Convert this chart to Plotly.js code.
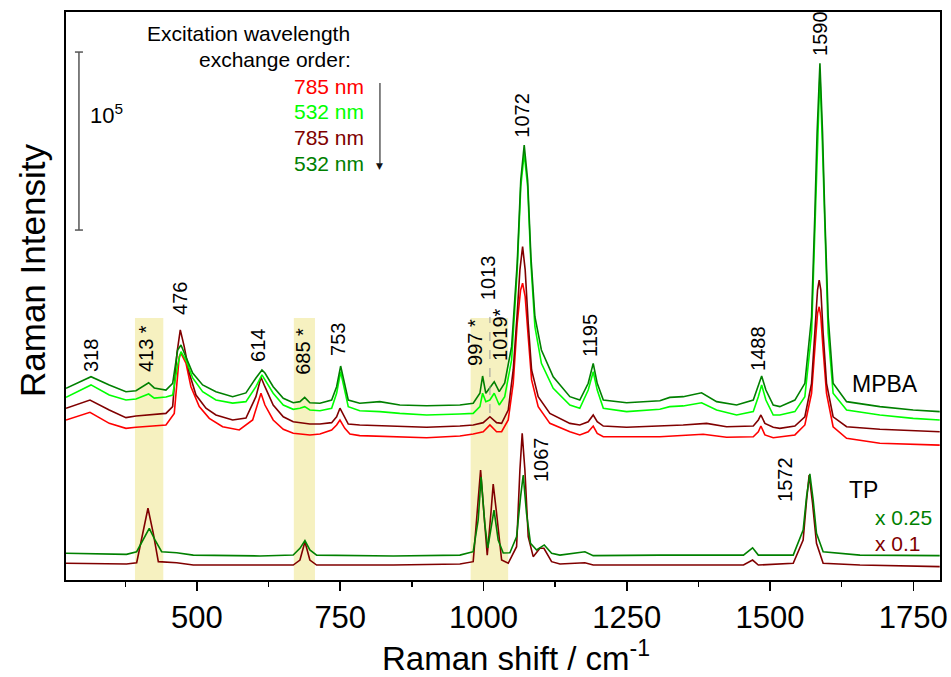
<!DOCTYPE html>
<html>
<head>
<meta charset="utf-8">
<script src="https://cdn.plot.ly/plotly-3.0.1.min.js"></script>
<style>html,body{margin:0;padding:0;background:#fff;}#chart{width:951px;height:677px;}</style>
</head>
<body>
<div id="chart"></div>
<script>
// ---------- DATA (Raman shift in cm^-1, intensity in 10^3 counts, offsets as plotted) ----------
// MPBA, 532 nm (second measurement, dark green)
const mpba532bX = [271.5,315.1,347,376.1,393.6,415.7,425.5,445.9,457.6,466.3,472.1,480.8,492.5,509.9,533.1,562.3,585.5,602.9,613.4,618.6,633,650.6,668,679.7,688,697,714.6,735,743.7,750.7,758,764,784,819,854,900.7,958.8,982,993.7,998.4,1004,1011,1018.7,1027.4,1037,1049,1058.8,1065,1071,1077,1082.7,1089.7,1101,1121.6,1150.7,1168,1182.7,1191.4,1198.4,1209,1249.7,1307.7,1325,1348.4,1380.5,1406.7,1441.6,1470.7,1479.5,1485.3,1492.7,1505.5,1517,1543.3,1560.7,1572.4,1578,1582,1587,1591.6,1595.6,1601.4,1610,1633.5,1691.6,1749.7,1796];
const mpba532bY = [107.7,114.2,109.6,105.8,106.3,110.8,107.9,106.7,110.5,129.2,132.0,125.5,116.3,109.6,105.8,103.0,105.1,113.5,118.0,116.3,108.6,102.1,99.6,100.2,102.6,99.6,99.3,101.1,108.6,120.2,110.5,101.1,99.3,100.2,98.3,97.9,98.3,99.3,104.9,114.6,104.9,107.7,111.4,105.8,110.7,131.1,177.9,224.7,244.4,224.7,181.6,147.9,129.2,114.2,103.0,101.1,110.5,121.7,110.5,101.1,99.6,100.7,102.6,103.0,105.2,100.2,98.3,101.1,108.6,114.6,106.7,98.3,97.4,101.1,110.5,147.9,204.1,251.0,290.3,251.0,204.1,147.9,110.5,100.2,97.4,95.5,94.6];
// MPBA, 532 nm (first measurement, bright green)
const mpba532aX = mpba532bX;
const mpba532aY = [102.6,109.6,103.9,101.1,101.7,104.5,102.2,102.8,103.9,120.8,128.3,123.6,113.5,105.8,101.1,99.4,100.2,108.6,115.2,112.4,104.9,98.3,95.9,96.5,97.4,95.5,95.1,96.5,104.9,117.0,106.7,97.4,95.1,94.6,93.6,92.7,93.3,93.6,97.4,104.9,100.2,101.1,104.9,98.3,103.0,123.6,174.2,221.0,239.7,221.0,177.9,142.3,121.7,107.7,98.3,96.5,106.7,117.0,106.7,96.5,94.6,95.9,97.4,97.8,99.6,95.5,92.7,94.6,103.0,109.6,101.1,92.7,92.7,94.6,103.0,138.6,194.8,241.6,284.7,241.6,194.8,138.6,104.9,95.5,92.7,90.8,89.9];
// MPBA, 785 nm (second measurement, dark red)
const mpba785bX = [271.5,313.3,347,376.1,393.6,416.8,445.9,457.6,465.1,470.9,477.8,486.6,498.3,515.7,533.1,562.3,585.5,602.9,611.7,618.6,633,650.6,668,697,714.6,735,743.7,749.5,758,764,784,854,900.7,958.8,982,999.5,1011.2,1022.8,1031.6,1043.1,1051.8,1058.8,1063.5,1068.2,1072.7,1078,1083.9,1095.4,1115.8,1150.7,1168,1182.7,1191.4,1198.4,1209,1249.7,1307.7,1348.4,1389.2,1424.1,1470.7,1479.5,1484,1491,1505.5,1517,1543.3,1560.7,1572.4,1578,1582.8,1585.7,1588.6,1592.6,1598.5,1610,1633.5,1691.6,1796];
const mpba785bY = [96.5,101.1,95.5,91.2,92.1,92.7,93.6,97.4,127.5,140.5,131.1,116.3,103.9,96.5,92.7,89.9,91.0,103.0,113.9,108.6,98.3,91.7,88.9,87.6,87.6,88.4,91.7,96.5,90.8,87.6,87.1,86.5,85.8,86.5,87.1,88.4,91.7,88.4,88.0,95.5,118.0,149.8,174.2,187.3,174.2,144.2,118.0,103.0,93.6,88.0,87.1,88.9,92.7,88.9,86.5,85.8,86.5,87.1,88.0,86.1,86.5,89.9,92.7,88.0,85.8,85.2,86.5,91.7,110.5,138.6,162.9,168.5,162.9,138.6,110.5,91.7,86.1,84.7,83.3];
// MPBA, 785 nm (first measurement, red)
const mpba785aX = [271.5,313.3,347,376.1,393.6,416.8,445.9,460.4,469.1,472.1,480.8,489.5,504,521.5,544.8,573.8,597.2,611.7,618.6,633,650.6,668,697,714.6,735,743.7,749.5,758,766.9,784,854,900.7,958.8,982,999.5,1011.2,1022.8,1031.6,1043.1,1051.8,1058.8,1064.7,1068.2,1072.7,1078,1083.9,1095.4,1115.8,1150.7,1168,1182.7,1191.4,1198.4,1209,1249.7,1307.7,1383.3,1424.1,1470.7,1479.5,1484,1491,1505.5,1517,1543.3,1560.7,1572.4,1578,1582.8,1585.7,1588.6,1592.6,1598.5,1610,1633.5,1691.6,1796];
const mpba785aY = [89.9,94.2,88.0,85.2,85.8,86.5,87.1,93.6,125.5,127.5,121.9,108.6,97.4,90.8,86.1,84.3,89.9,104.9,98.3,89.9,84.7,82.4,81.5,82.0,84.3,87.1,89.9,85.2,82.0,81.1,80.5,79.9,80.9,82.0,83.3,87.1,83.3,83.3,89.9,110.5,144.2,162.9,166.7,159.2,136.7,112.4,97.4,88.0,83.3,81.5,83.3,86.5,82.4,80.5,80.5,80.5,81.9,80.2,80.5,83.3,86.5,81.5,79.9,80.5,81.5,87.1,104.9,129.2,149.8,153.5,147.9,129.2,104.9,86.1,79.6,76.8,75.8];
// TP, 532 nm (x 0.25, dark green)
const tp532X = [271.5,377,394.8,406,416.8,426.7,438.4,464.6,493.6,610,668,679.7,688.4,697,708.8,842.5,958.8,982,990.7,995.8,1002.4,1007.5,1011,1018.3,1025.6,1034.4,1046,1057.7,1064.7,1069.3,1075,1082,1092.6,1106,1118.8,1133.3,1176.9,1191.4,1307.7,1453.6,1469.5,1479.5,1540.4,1557.7,1563.7,1569.4,1575.2,1581,1592.6,1656.8,1796];
const tp532Y = [15.0,14.4,15.9,22.5,29.0,22.5,15.9,15.3,14.0,13.5,14.0,17.8,22.1,16.9,14.0,13.5,14.0,15.9,33.7,57.9,30.9,18.0,24.3,39.3,22.5,15.2,15.3,24.3,46.8,59.0,37.5,20.6,16.9,19.7,15.0,14.0,15.9,13.7,14.0,14.0,18.1,14.0,14.0,28.1,46.8,59.6,44.9,26.2,15.9,14.0,13.7];
// TP, 785 nm (x 0.1, dark red)
const tp785X = [271.5,377,394.8,405.3,414.5,423.8,432.6,464.6,493.6,610,668,679.7,688.4,697,708.8,842.5,958.8,982,989.6,994.9,1000.7,1006.5,1012.9,1016.9,1022.8,1031.6,1043.1,1057.7,1063.5,1067.5,1072.2,1078,1086.7,1098.4,1105.4,1118.8,1133.3,1176.9,1191.4,1307.7,1453.6,1469.5,1479.5,1540.4,1557.7,1563.7,1568.2,1574.1,1581,1592.6,1656.8,1796];
const tp785Y = [9.4,9.0,9.7,26.2,40.3,26.2,10.3,9.7,8.4,8.4,8.4,11.2,21.5,11.2,8.4,8.4,9.0,10.3,43.1,61.8,37.5,14.0,37.5,53.9,37.5,11.2,9.4,18.7,61.8,82.4,61.8,24.3,13.1,17.8,17.8,10.3,9.0,9.7,8.4,8.4,8.4,11.2,8.4,9.4,22.5,44.9,59.0,43.1,20.6,9.4,8.4,7.5];

// tick labels
const tickValues = [500, 750, 1000, 1250, 1500, 1750];
const tickLabels = ['500', '750', '1000', '1250', '1500', '1750'];

// peak labels (text)
const peakLabels = ['318','413 *','476','614','685 *','753','997 *','1013','1019*','1072','1195','1488','1590','1067','1572'];
// highlighted (starred) bands, cm^-1
const bandStarts = [391.8, 669.0, 977.5];
const bandEnds   = [441.3, 705.9, 1043.0];

// ---------- STYLE ----------
const FONT = 'Liberation Sans, Arial, sans-serif';
const RED = '#ff0000', GREEN = '#00ff00', DRED = '#800000', DGREEN = '#008000';

function line(x, y, color, name) {
  return {x: x, y: y, type: 'scatter', mode: 'lines', name: name,
          line: {color: color, width: 1.6}, hoverinfo: 'x+y'};
}

const traces = [
  line(mpba785aX, mpba785aY, RED, 'MPBA 785 nm (1)'),
  line(mpba785bX, mpba785bY, DRED, 'MPBA 785 nm (2)'),
  line(mpba532aX, mpba532aY, GREEN, 'MPBA 532 nm (1)'),
  line(mpba532bX, mpba532bY, DGREEN, 'MPBA 532 nm (2)'),
  line(tp785X, tp785Y, DRED, 'TP 785 nm x0.1'),
  line(tp532X, tp532Y, DGREEN, 'TP 532 nm x0.25')
];

// label positions (layout, not data)
const peakPos = [
  [315.1,126.4],[412.2,130.1],[470.3,158.4],[606.4,132.0],[684.9,128.7],[746,135.4],
  [985,133.7],[1008.2,169.7],[1028.6,137.6],[1066.5,261.2],[1185.6,137.6],[1478.7,130.3],
  [1586.9,307.3],[1101.4,67.7],[1525.8,56.7]
];

const annotations = [];
peakLabels.forEach((t, i) => {
  annotations.push({x: peakPos[i][0], y: peakPos[i][1], xref: 'x', yref: 'y', text: t,
    textangle: -90, showarrow: false, xanchor: 'center', yanchor: 'middle',
    font: {family: FONT, size: 20, color: '#000'}});
});

function txt(x, y, t, opts) {
  return Object.assign({x: x, y: y, xref: 'x', yref: 'y', text: t, showarrow: false,
    xanchor: 'center', yanchor: 'middle', font: {family: FONT, size: 21, color: '#000'}}, opts || {});
}

annotations.push(txt(1701.2, 110.1, 'MPBA', {font: {family: FONT, size: 23, color: '#000'}}));
annotations.push(txt(1663.6, 50.6, 'TP', {font: {family: FONT, size: 23, color: '#000'}}));
annotations.push({x: 0.9233, y: 0.1109, xref: 'paper', yref: 'paper', text: 'x 0.25', showarrow: false,
  xanchor: 'left', yanchor: 'middle', font: {family: FONT, size: 21, color: DGREEN}});
annotations.push({x: 0.9233, y: 0.0651, xref: 'paper', yref: 'paper', text: 'x 0.1', showarrow: false,
  xanchor: 'left', yanchor: 'middle', font: {family: FONT, size: 21, color: DRED}});

// legend-like text block
const block = [
  ['Excitation wavelength', 0.3272, 0.9621, '#000'],
  ['exchange order:', 0.3284, 0.9155, '#000'],
  ['785 nm', 0.3432, 0.8680, RED],
  ['532 nm', 0.3432, 0.8248, GREEN],
  ['785 nm', 0.3432, 0.7782, DRED],
  ['532 nm', 0.3432, 0.7333, DGREEN]
];
block.forEach(b => annotations.push({x: b[1], y: b[2], xref: 'paper', yref: 'paper', text: b[0],
  showarrow: false, xanchor: 'right', yanchor: 'middle', font: {family: FONT, size: 21, color: b[3]}}));

// arrow head of exchange order (glyph)
annotations.push({x: 819.3, y: 232.5, xref: 'x', yref: 'y', text: '\u25BC', showarrow: false,
  xanchor: 'center', yanchor: 'middle', font: {family: 'DejaVu Sans, sans-serif', size: 9, color: '#111'}});

// scale bar label
annotations.push({x: 0.0252, y: 0.8213, xref: 'paper', yref: 'paper', text: '10<sup>5</sup>', showarrow: false,
  xanchor: 'left', yanchor: 'middle', font: {family: FONT, size: 22, color: '#000'}});

// axis titles
annotations.push({x: -0.0389, y: 0.544, xref: 'paper', yref: 'paper', text: 'Raman Intensity', showarrow: false,
  textangle: -90, xanchor: 'center', yanchor: 'middle', font: {family: FONT, size: 35, color: '#000'}});
annotations.push({x: 0.5149, y: -0.134, xref: 'paper', yref: 'paper', text: 'Raman shift / cm<sup>-1</sup>', showarrow: false,
  xanchor: 'center', yanchor: 'middle', borderpad: 0, font: {family: FONT, size: 33, color: '#000'}});

const shapes = [];
bandStarts.forEach((b, i) => shapes.push({type: 'rect', xref: 'x', yref: 'y', x0: b, x1: bandEnds[i],
  y0: 0, y1: 147.2, fillcolor: 'rgb(246,241,192)', line: {width: 0}, layer: 'below'}));
// dashed marker at 1013
shapes.push({type: 'line', xref: 'x', yref: 'y', x0: 1011.2, x1: 1011.2, y0: 93.8, y1: 147.8,
  line: {color: '#999', width: 1, dash: 'dash'}});
// arrow shaft of exchange order
shapes.push({type: 'line', xref: 'x', yref: 'y', x0: 819.3, x1: 819.3, y0: 234, y1: 279.2,
  line: {color: '#444', width: 1.3}});
// scale bar (10^5 counts = 100 units)
shapes.push({type: 'line', xref: 'x', yref: 'y', x0: 294.1, x1: 294.1, y0: 196.6, y1: 296.6, line: {color: '#555', width: 1.5}});
shapes.push({type: 'line', xref: 'x', yref: 'y', x0: 287.1, x1: 301.1, y0: 196.6, y1: 196.6, line: {color: '#555', width: 1.5}});
shapes.push({type: 'line', xref: 'x', yref: 'y', x0: 287.1, x1: 301.1, y0: 296.6, y1: 296.6, line: {color: '#555', width: 1.5}});

const layout = {
  width: 951, height: 677,
  margin: {l: 66, r: 11, t: 12, b: 97},
  paper_bgcolor: '#fff', plot_bgcolor: '#fff',
  showlegend: false,
  font: {family: FONT, color: '#000'},
  xaxis: {
    range: [271.5, 1796.5], tickmode: 'array', tickvals: tickValues, ticktext: tickLabels,
    ticks: 'outside', ticklen: 9, tickwidth: 1.5, tickcolor: '#000',
    minor: {ticks: 'outside', ticklen: 5, tickwidth: 1.5, tickcolor: '#000', tick0: 0, dtick: 125},
    showline: true, linecolor: '#000', linewidth: 1.8, mirror: true,
    showgrid: false, zeroline: false,
    tickfont: {family: FONT, size: 31, color: '#000'}
  },
  yaxis: {
    range: [0, 319.1], showticklabels: false, ticks: '',
    showline: true, linecolor: '#000', linewidth: 1.8, mirror: true,
    showgrid: false, zeroline: false
  },
  annotations: annotations,
  shapes: shapes
};

Plotly.newPlot('chart', traces, layout, {displayModeBar: false, staticPlot: true});
</script>
</body>
</html>
